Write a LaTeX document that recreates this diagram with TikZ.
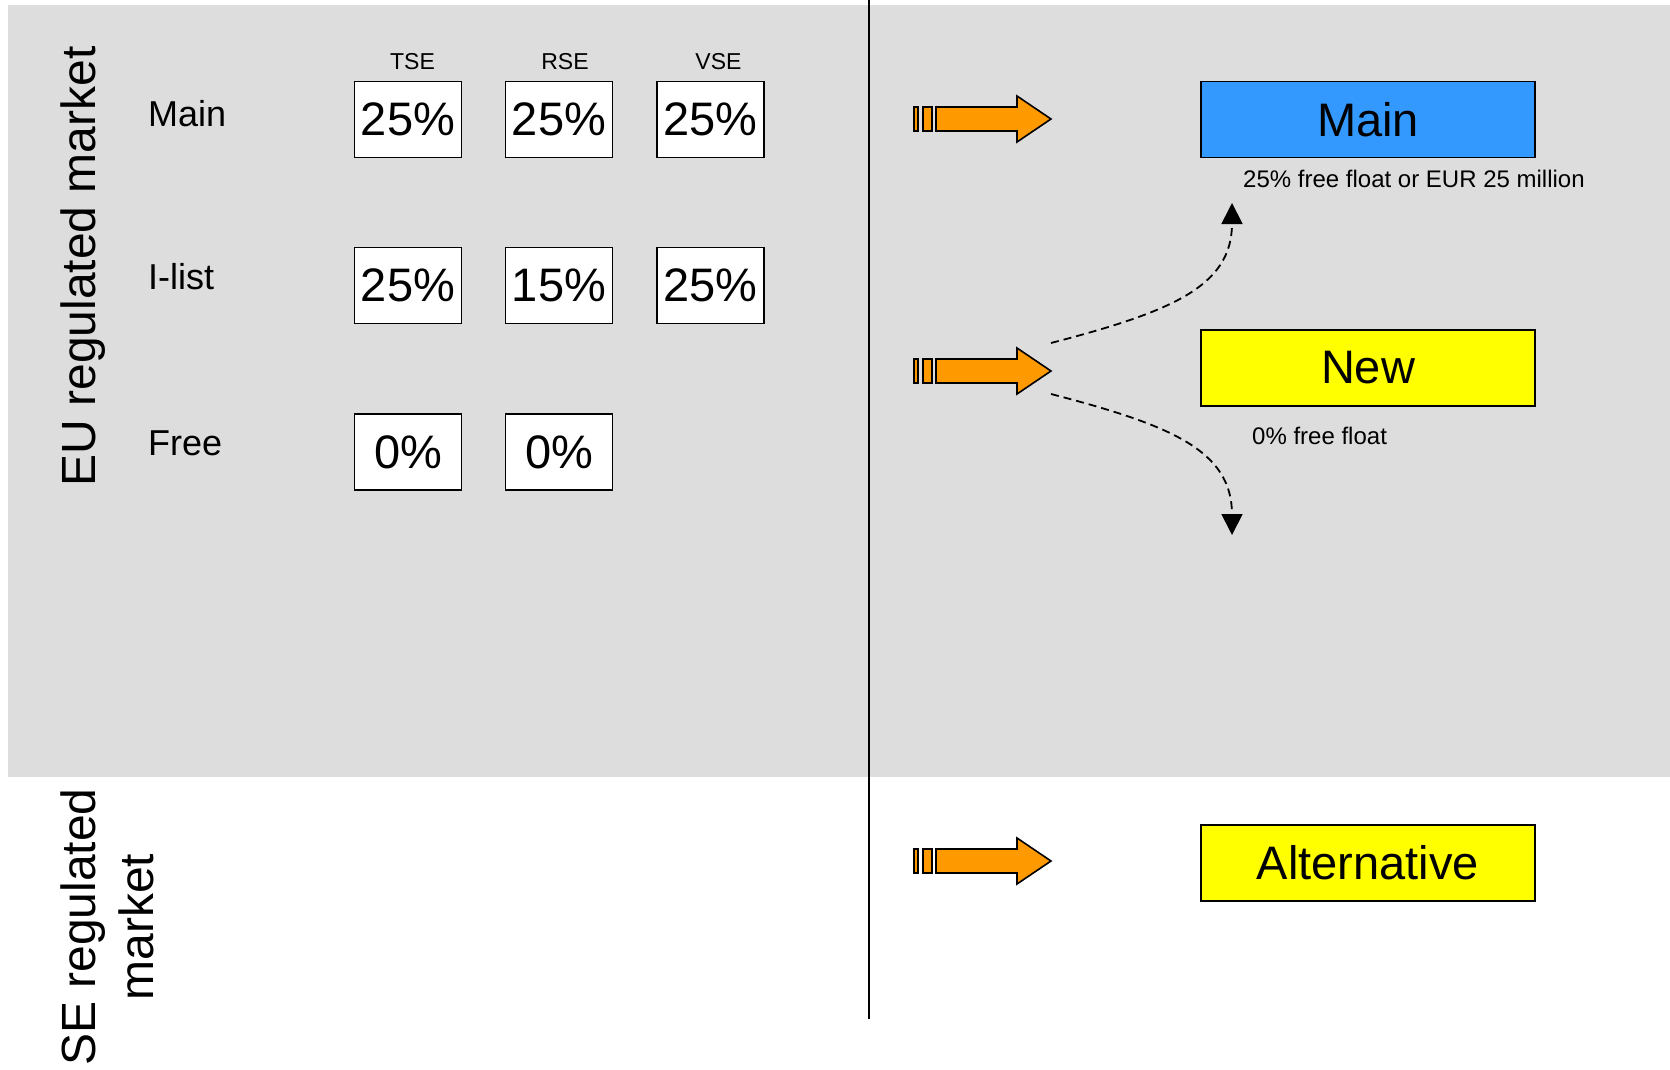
\documentclass[tikz,border=0pt]{standalone}
\usepackage{fontspec}
\setmainfont{Liberation Sans}
\usepackage{tikz}
\usetikzlibrary{arrows.meta}
\definecolor{panelgray}{HTML}{DDDDDD}
\definecolor{mainblue}{HTML}{3399FF}
\definecolor{newyellow}{HTML}{FFFF00}
\definecolor{arroworange}{HTML}{FF9900}
\tikzstyle{pct} = [rectangle, draw=black, fill=white, line width=1.6pt, minimum width=107pt, minimum height=76pt, inner sep=0pt, text centered, font=\fontsize{47}{56}\selectfont]
\tikzstyle{seg} = [rectangle, draw=black, line width=1.6pt, minimum width=334pt, minimum height=76pt, inner sep=0pt, text centered, font=\fontsize{47}{56}\selectfont]
\tikzstyle{hdr} = [inner sep=0pt, font=\fontsize{23}{28}\selectfont]
\tikzstyle{rowlbl} = [anchor=west, inner sep=0pt, font=\fontsize{36}{43}\selectfont]
\tikzstyle{side} = [rotate=90, inner sep=0pt, align=center, font=\fontsize{48}{58}\selectfont]
\tikzstyle{note} = [anchor=west, inner sep=0pt, font=\fontsize{24}{29}\selectfont]
\tikzstyle{fat} = [draw=black, fill=arroworange, line width=1.6pt, line join=miter]
\tikzstyle{flow} = [line width=1.8pt, dash pattern=on 8pt off 5pt, -{Triangle[length=21pt,width=21pt]}]

\begin{document}
\begin{tikzpicture}[x=1pt, y=-1pt]

            \useasboundingbox (0,0) rectangle (1670,1070);
            \fill[panelgray] (7.5,5) rectangle (1670,777);
            \draw[line width=1.8pt] (869,0) -- (869,1019);

            %% EU / SE

            \node (eu) [side] at (83,266.5) {EU regulated market};
            \node (se) [side] at (107,927) {SE regulated\\market};

            \node (hTSE) [hdr] at (412.5,61.5) {TSE};
            \node (hRSE) [hdr] at (565,61.5) {RSE};
            \node (hVSE) [hdr] at (718.5,61.5) {VSE};

            \node (lMain) [rowlbl] at (148,114) {Main};
            \node (lIlist) [rowlbl] at (148,277) {I-list};
            \node (lFree) [rowlbl] at (148,443) {Free};

            \node (mainTSE) [pct] at (408,119.5) {25\%};
            \node (mainRSE) [pct] at (559,119.5) {25\%};
            \node (mainVSE) [pct] at (710.5,119.5) {25\%};

            \node (ilistTSE) [pct] at (408,285.5) {25\%};
            \node (ilistRSE) [pct] at (559,285.5) {15\%};
            \node (ilistVSE) [pct] at (710.5,285.5) {25\%};

            \node (freeTSE) [pct] at (408,452) {0\%};
            \node (freeRSE) [pct] at (559,452) {0\%};

            %% arrows

            \foreach \c in {119,371,861} {
                \draw[fat] (914,\c-12) rectangle (918,\c+12);
                \draw[fat] (923,\c-12) rectangle (932,\c+12);
                \draw[fat] (936,\c-12) -- (1017,\c-12) -- (1017,\c-23) -- (1051,\c)
                    -- (1017,\c+23) -- (1017,\c+12) -- (936,\c+12) -- cycle;
            }

            %% new segments

            \node (sMain) [seg, fill=mainblue] at (1368,119.5) {Main};
            \node (sNew) [seg, fill=newyellow] at (1368,368) {New};
            \node (sAlt) [seg, fill=newyellow] at (1368,863) {Alternative};

            \node (nMain) [note] at (1243,178.5) {25\% free float or EUR 25 million};
            \node (nNew) [note] at (1252,436) {0\% free float};

            \coordinate (splitUp) at (1051,343);
            \coordinate (splitDown) at (1051,394);
            \coordinate (toMain) at (1232,203);
            \coordinate (toFree) at (1232,535);

            \draw[flow] (splitUp) .. controls (1170,312) and (1232,287) .. (toMain);
            \draw[flow] (splitDown) .. controls (1170,425) and (1232,450) .. (toFree);

        \end{tikzpicture}
\end{document}
